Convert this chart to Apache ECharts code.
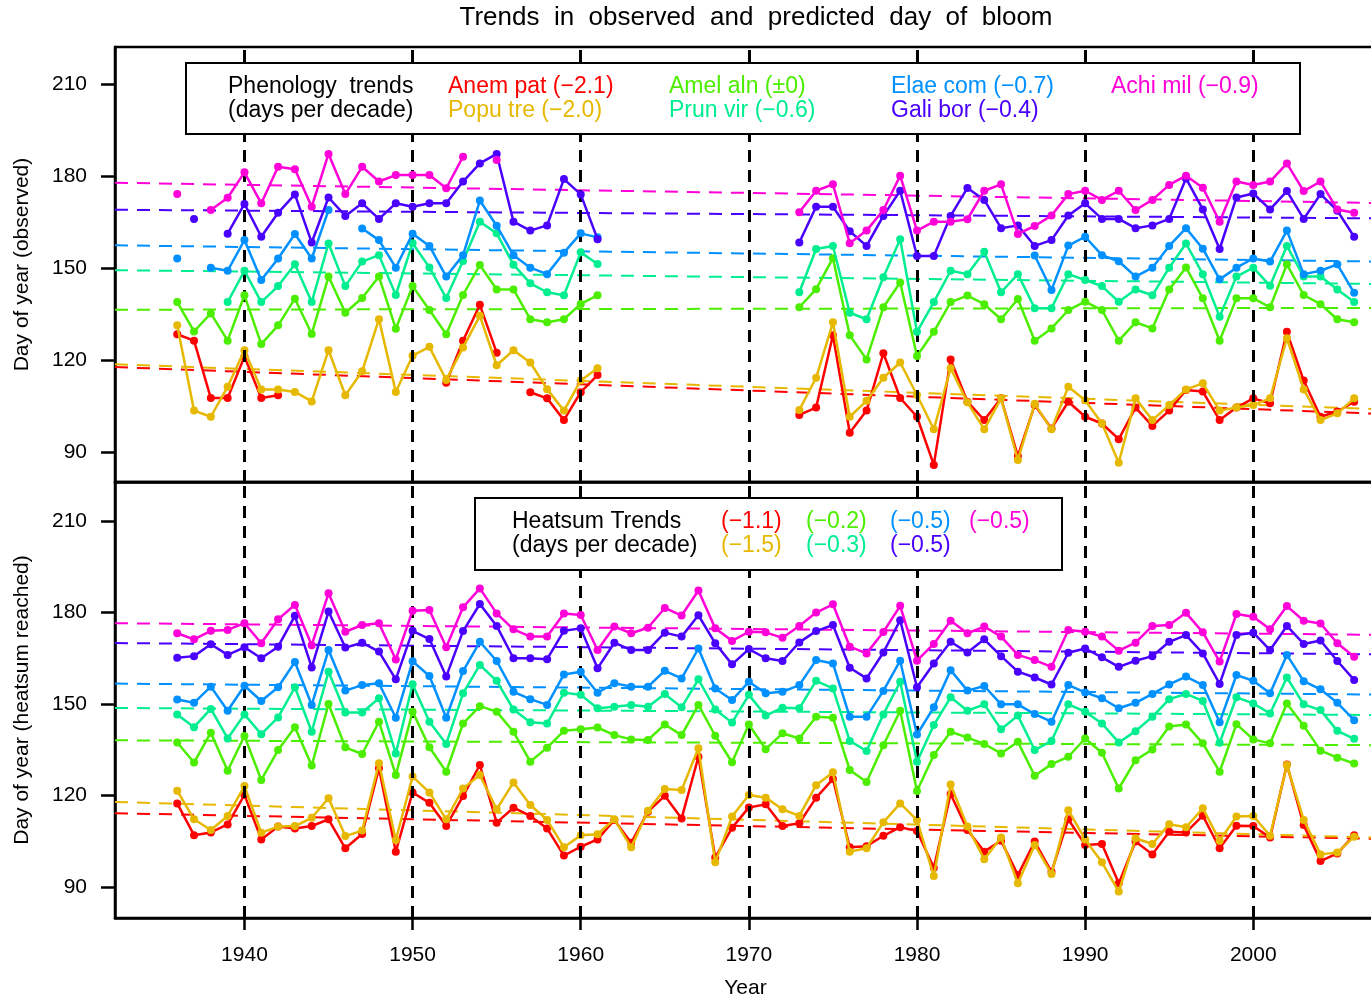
<!DOCTYPE html>
<html>
<head>
<meta charset="utf-8">
<script src="https://cdn.jsdelivr.net/npm/echarts@6/dist/echarts.min.js"></script>
<style>
html,body{margin:0;padding:0;background:#fff}
#chart{width:1371px;height:1000px}
</style>
</head>
<body>
<div id="chart"></div>
<script>
var FONT = "'Liberation Sans', Arial, sans-serif"

// years 1936..2006, one value per year in every series below
var firstYear = 1936
var lastYear = 2006
var decades = [1940, 1950, 1960, 1970, 1980, 1990, 2000]
var yTicks = [90, 120, 150, 180, 210]
var xRange = [1932.3, 2007.3]

var species = ['Anem pat', 'Popu tre', 'Amel aln', 'Prun vir', 'Elae com', 'Gali bor', 'Achi mil']
var colors = ['#FF0000', '#E6B800', '#4CEE00', '#00EE90', '#0090FF', '#4A00FF', '#FF00D8']
var obsTrendText = ['(\u22122.1)', '(\u22122.0)', '(\u00b10)', '(\u22120.6)', '(\u22120.7)', '(\u22120.4)', '(\u22120.9)']
var hsTrendText = ['(\u22121.1)', '(\u22121.5)', '(\u22120.2)', '(\u22120.3)', '(\u22120.5)', '(\u22120.5)', '(\u22120.5)']

// ---- observed (top panel), 1962-1972 missing
var obsAnem = [128.4,126.3,107.6,107.6,121.1,107.6,108.5,null,null,null, null,null,null,null,null,null,112.6,126.3,138.0,122.4, null,109.5,107.5,100.4,109.5,115.1,
  null,null,null,null,null,null,null,null,null,null,null,
  102.1,104.5,128.1,96.3,103.5,122.2,107.6,101.5,85.8,120.2, 106.4,100.4,107.5,88.7,105.3,97.7,106.4,101.5,99.3,94.2, 104.5,98.5,103.5,110.2,109.7,100.4,104.5,107.5,105.9,129.2, 113.3,101.5,103.2,106.4]
var obsPopu = [131.3,103.5,101.5,111.3,123.2,110.4,110.4,109.6,106.5,123.2, 108.5,116.3,133.3,109.6,121.4,124.3,113.5,124.1,134.4,118.3, 123.2,119.2,110.5,103.5,113.3,117.3,
  null,null,null,null,null,null,null,null,null,null,null,
  103.7,114.2,132.3,101.5,106.7,114.2,119.2,108.6,97.4,117.3, 106.2,97.4,107.5,87.4,105.7,97.4,111.3,106.9,99.3,86.5, 107.5,100.4,105.3,110.4,112.4,103.5,104.5,105.3,107.5,127.1, 110.4,100.4,102.6,107.5]
var obsAmel = [138.9,129.3,135.2,126.3,141.1,125.2,131.3,140.0,128.5,147.2, 135.4,140.2,147.2,130.2,144.1,136.3,128.4,141.2,151.0,143.0, 143.0,133.3,132.3,133.3,138.3,141.1,
  null,null,null,null,null,null,null,null,null,null,null,
  137.2,143.1,153.2,128.1,120.2,137.2,145.3,121.3,129.2,138.9, 141.0,138.2,133.3,139.9,126.3,130.3,136.3,139.0,136.3,126.3, 132.3,130.3,143.0,150.2,140.1,126.3,140.1,140.1,137.2,151.2, 141.2,138.2,133.3,132.3]
var obsPrun = [null,null,null,138.9,149.1,138.9,144.1,151.2,138.9,158.0, 144.1,152.1,154.2,141.2,158.1,150.2,140.2,152.3,165.1,161.3, 151.1,145.0,142.1,141.1,155.1,151.3,
  null,null,null,null,null,null,null,null,null,null,null,
  142.1,156.2,157.2,135.4,133.3,147.0,159.4,129.2,138.9,149.1, 148.0,155.3,142.1,148.0,136.9,136.9,148.0,146.1,144.1,139.0, 143.0,141.1,150.1,158.0,148.0,134.1,147.2,150.1,144.2,157.2, 147.2,147.2,143.0,138.9]
var obsElae = [153.1,null,150.1,149.1,159.1,146.1,153.1,161.1,153.1,168.9, null,162.9,159.1,150.1,161.2,157.2,147.2,154.2,172.0,163.8, 154.2,150.1,148.0,155.0,161.3,160.0,
  null,null,null,null,null,null,null,null,null,null,null,
  null,null,null,null,null,null,null,null,null,null, null,null,null,null,154.1,142.8,157.3,160.2,154.2,152.2, 147.2,150.1,157.2,163.0,156.3,146.3,150.1,153.1,152.1,162.2, 148.0,149.1,151.2,141.9]
var obsGali = [null,166.0,null,161.2,170.9,160.2,168.0,174.0,158.3,173.0, 167.0,171.1,166.0,171.1,170.0,171.1,171.1,178.2,184.1,187.2, 165.1,162.2,163.9,179.0,174.0,159.4,
  null,null,null,null,null,null,null,null,null,null,null,
  158.3,170.0,170.0,162.0,157.2,167.0,175.2,153.9,153.9,167.0, 176.1,172.2,163.0,163.9,157.2,159.1,167.1,171.1,166.0,166.0, 163.0,163.9,166.0,179.2,169.1,156.2,173.0,174.3,169.1,175.1, 166.0,174.1,168.7,160.2]
var obsAchi = [174.1,null,168.9,172.9,181.2,171.1,183.0,182.2,170.0,187.2, 174.1,183.0,178.2,180.3,180.3,180.3,176.0,186.3,null,185.2, null,null,null,null,null,null,
  null,null,null,null,null,null,null,null,null,null,null,
  168.2,175.2,177.3,158.1,162.2,168.9,180.1,162.2,165.1,165.1, 165.9,175.2,177.3,161.1,163.7,167.1,174.1,175.2,172.2,175.2, 168.9,172.2,177.1,180.1,176.2,165.1,178.2,177.1,178.2,184.1, 175.1,178.2,169.1,168.0]

// ---- heatsum reached (bottom panel)
var hsAnem = [117.4,107.0,107.9,110.5,120.2,105.6,109.8,109.2,110.0,112.2, 102.7,107.4,128.9,101.6,121.0,117.6,110.0,119.8,130.0,111.1,
  116.0,113.3,109.2,100.3,103.2,105.6,112.0,104.5,114.7,119.9, 112.5,132.7,99.7,109.4,116.1,117.1,110.0,110.9,119.3,125.4,
  103.0,103.4,106.8,109.6,108.4,96.3,120.5,108.7,101.6,105.2, 93.9,104.9,95.0,112.2,103.8,104.1,91.2,104.9,100.7,108.1,
  107.9,113.4,102.7,110.1,110.0,106.2,130.2,110.3,98.5,101.0, 107.0]
var hsPopu = [121.6,112.2,108.7,113.3,123.1,107.8,109.8,110.0,112.7,119.1, 106.7,108.5,130.6,105.4,126.2,121.0,112.2,122.3,126.7,115.5,
  124.3,116.9,112.0,103.0,107.0,107.3,112.2,103.0,115.0,122.1, 121.8,135.5,98.1,113.1,120.2,119.3,115.5,113.3,123.4,127.6,
  101.6,102.7,111.2,117.4,111.9,93.6,123.6,109.8,99.1,106.2, 91.2,103.8,94.3,115.2,105.6,98.1,88.5,106.0,104.1,110.6,
  109.6,115.8,105.2,113.1,113.3,106.8,130.0,112.0,100.7,101.3, 106.5]
var hsAmel = [137.4,130.8,140.6,128.1,139.5,125.1,134.9,142.4,129.8,150.0, 135.8,133.6,144.2,126.7,147.5,135.8,127.8,143.6,149.3,147.5,
  140.9,131.1,135.7,141.2,141.7,142.3,139.8,138.4,138.2,143.3, 139.8,149.7,139.6,130.9,143.3,135.2,140.4,138.7,145.8,145.5,
  128.4,124.4,136.5,147.8,121.5,133.3,140.9,139.0,136.9,133.8, 137.6,126.5,130.3,132.7,138.7,134.0,122.3,131.6,135.1,142.6,
  143.3,137.1,127.8,143.4,138.4,137.1,150.2,142.9,134.7,132.4, 130.5]
var hsPrun = [146.6,142.4,148.4,138.7,146.6,140.1,145.6,155.5,140.9,160.6, 147.2,147.2,151.9,133.8,156.5,144.2,136.9,153.5,162.8,157.6,
  148.2,144.0,143.6,153.7,153.0,148.6,149.1,149.7,149.1,153.3, 148.9,158.1,148.2,143.9,153.0,146.2,148.8,148.6,157.6,155.1,
  137.9,134.6,146.6,157.3,131.1,143.1,152.2,147.8,149.9,141.7, 146.2,134.9,137.9,149.9,147.5,143.6,137.4,141.1,145.8,151.6,
  153.3,151.0,137.3,152.2,150.2,146.9,158.7,149.9,148.0,141.2, 138.6]
var hsElae = [151.5,150.4,155.7,147.8,156.0,151.0,155.5,163.8,149.7,167.7, 154.4,156.2,156.8,145.5,164.0,159.2,145.5,160.8,170.4,164.1,
  154.0,151.6,149.7,159.7,160.6,153.7,156.8,155.7,155.7,160.9, 158.4,168.2,155.1,151.3,157.3,153.5,154.0,156.2,164.4,163.3,
  145.8,145.8,154.3,164.2,140.0,148.9,161.1,154.4,155.9,149.9, 149.9,146.7,144.2,156.2,153.8,151.9,148.6,150.4,153.3,156.4,
  159.0,156.2,144.0,159.5,157.6,153.5,166.1,157.5,154.8,150.4, 144.7]
var hsGali = [165.2,165.7,169.6,166.1,168.6,165.0,168.8,178.9,162.0,180.3, 168.5,170.1,167.2,158.1,174.0,171.3,159.0,173.9,182.8,175.6,
  165.0,165.0,164.7,174.0,174.8,161.7,170.1,167.7,167.7,173.4, 172.1,179.1,169.9,163.0,168.0,165.0,164.1,170.2,173.9,175.9,
  161.9,158.4,166.9,177.5,155.5,163.3,170.4,166.9,171.2,165.7, 160.6,158.7,156.4,166.8,168.2,165.3,162.2,164.2,165.7,170.4,
  172.6,166.6,156.6,172.6,173.4,167.7,175.6,169.7,170.8,164.1, 157.9]
var hsAchi = [173.2,171.2,174.0,174.3,176.5,169.9,177.8,182.5,169.3,186.3, 173.7,175.9,176.5,164.6,180.6,180.8,168.6,181.7,187.9,179.7,
  174.5,172.1,172.1,179.7,179.2,167.7,175.4,173.2,175.0,181.5, 179.0,187.2,174.8,170.7,173.7,173.5,171.7,175.6,180.0,182.7,
  168.8,166.6,173.6,182.2,164.2,169.7,177.3,173.2,175.4,172.1, 166.1,164.4,162.2,174.3,173.7,172.1,167.5,170.1,175.6,175.9,
  179.9,173.5,163.9,179.5,178.6,174.5,182.1,177.3,176.4,169.9, 165.5]

// trend lines, value at left and right edge of the plot
var obsTrendStart = [117.7, 118.6, 136.4, 149.3, 157.4, 169.0, 177.8]
var obsTrendEnd   = [102.5, 104.0, 137.0, 144.8, 152.1, 166.2, 171.2]
var hsTrendStart  = [114.2, 117.9, 138.1, 148.7, 156.7, 170.0, 176.5]
var hsTrendEnd    = [105.8, 106.2, 136.5, 146.4, 153.1, 166.3, 172.7]

var obsSeries = [obsAnem, obsPopu, obsAmel, obsPrun, obsElae, obsGali, obsAchi]
var hsSeries = [hsAnem, hsPopu, hsAmel, hsPrun, hsElae, hsGali, hsAchi]

var years = []
for (var y = firstYear; y <= lastYear; y++) years.push(y)

function pairs(vals) {
  var out = []
  for (var i = 0; i < years.length; i++) out.push([years[i], vals[i]])
  return out
}

function buildSeries(p, sets, tStart, tEnd) {
  var list = []
  for (var i = 0; i < sets.length; i++) {
    var s = {
      type: 'line', xAxisIndex: p, yAxisIndex: p, silent: true, animation: false,
      data: [[xRange[0], tStart[i]], [xRange[1], tEnd[i]]],
      symbol: 'none',
      lineStyle: { color: colors[i], width: 2, type: [13, 9] },
      z: 2
    }
    if (i == 0) {
      // decade guides
      var md = []
      for (var k = 0; k < decades.length; k++) md.push({ xAxis: decades[k] })
      s.markLine = {
        symbol: 'none', silent: true, animation: false,
        label: { show: false },
        lineStyle: { color: '#000', width: 3, type: [12, 8] },
        data: md
      }
    }
    list.push(s)
  }
  for (var j = 0; j < sets.length; j++) {
    list.push({
      type: 'line', xAxisIndex: p, yAxisIndex: p, silent: true, animation: false,
      data: pairs(sets[j]),
      connectNulls: false,
      symbol: 'circle', symbolSize: 8, showSymbol: true, showAllSymbol: true,
      lineStyle: { color: colors[j], width: 2.5 },
      itemStyle: { color: colors[j] },
      z: 3 + j
    })
  }
  return list
}

function yAxis(p, min, max, name) {
  return {
    type: 'value', gridIndex: p, min: min, max: max,
    name: name, nameLocation: 'middle', nameGap: 82,
    nameTextStyle: { fontSize: 21, fontFamily: FONT, color: '#000' },
    axisLine: { show: true, lineStyle: { color: '#000', width: 2.5 } },
    axisTick: { show: true, customValues: yTicks, length: 14, lineStyle: { color: '#000', width: 2.5 } },
    axisLabel: { customValues: yTicks, fontSize: 21, fontFamily: FONT, color: '#000', margin: 28 },
    splitLine: { show: false }
  }
}

function xAxis(p, showLabels) {
  return {
    type: 'value', gridIndex: p, min: xRange[0], max: xRange[1],
    name: showLabels ? 'Year' : '', nameLocation: 'middle', nameGap: 60,
    nameTextStyle: { fontSize: 21, fontFamily: FONT, color: '#000' },
    axisLine: { show: true, onZero: false, lineStyle: { color: '#000', width: 2.5 } },
    axisTick: { show: showLabels, customValues: decades, length: 12, lineStyle: { color: '#000', width: 2.5 } },
    axisLabel: {
      show: showLabels, customValues: decades, fontSize: 21, fontFamily: FONT, color: '#000', margin: 27,
      formatter: function (v) { return String(v) }
    },
    splitLine: { show: false }
  }
}

function legendBox(box, header, cols, rowY, labels) {
  var els = []
  els.push({
    type: 'rect', z: 100,
    shape: { x: box[0], y: box[1], width: box[2], height: box[3] },
    style: { fill: '#fff', stroke: '#000', lineWidth: 2 }
  })
  for (var h = 0; h < header.length; h++) {
    els.push(textEl(header[h], cols[0], rowY[h], '#000'))
  }
  for (var i = 0; i < labels.length; i++) {
    els.push(textEl(labels[i], cols[1 + Math.floor(i / 2)], rowY[i % 2], colors[i]))
  }
  return els
}

function textEl(txt, x, y, color) {
  return {
    type: 'text', z: 101, x: x, y: y,
    style: {
      text: txt, fill: color, fontSize: 23, fontFamily: FONT,
      align: 'left', verticalAlign: 'middle', textAlign: 'left', textVerticalAlign: 'middle'
    }
  }
}

var obsLabels = []
for (var i = 0; i < species.length; i++) obsLabels.push(species[i] + ' ' + obsTrendText[i])

var graphics = []
graphics = graphics.concat(legendBox([186, 63, 1114, 71], ['Phenology  trends', '(days per decade)'],
  [228, 448, 669, 891, 1111], [87, 111], obsLabels))
graphics = graphics.concat(legendBox([475, 498, 587, 72], ['Heatsum Trends', '(days per decade)'],
  [512, 721, 806, 890, 969], [522, 546], hsTrendText))
graphics.push({
  type: 'text', z: 101, x: 756, y: 18,
  style: {
    text: 'Trends  in  observed  and  predicted  day  of  bloom', fill: '#000', fontSize: 26, fontFamily: FONT,
    align: 'center', verticalAlign: 'middle', textAlign: 'center', textVerticalAlign: 'middle'
  }
})

var chart = echarts.init(document.getElementById('chart'), null, { renderer: 'canvas' })
var option = {
  animation: false,
  backgroundColor: '#fff',
  grid: [
    { left: 115, top: 47, width: 1261, height: 435, outerBoundsMode: 'none', show: true, borderColor: '#000', borderWidth: 2.5, backgroundColor: 'transparent' },
    { left: 115, top: 482, width: 1261, height: 436, outerBoundsMode: 'none', show: true, borderColor: '#000', borderWidth: 2.5, backgroundColor: 'transparent' }
  ],
  xAxis: [xAxis(0, false), xAxis(1, true)],
  yAxis: [
    yAxis(0, 80.22, 222.07, 'Day of year (observed)'),
    yAxis(1, 79.84, 222.79, 'Day of year (heatsum reached)')
  ],
  series: buildSeries(0, obsSeries, obsTrendStart, obsTrendEnd).concat(buildSeries(1, hsSeries, hsTrendStart, hsTrendEnd)),
  graphic: graphics
}
chart.setOption(option)
</script>
</body>
</html>
